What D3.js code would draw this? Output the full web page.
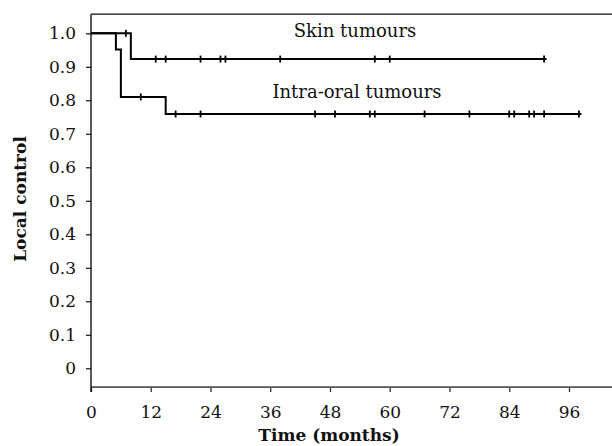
<!DOCTYPE html>
<html>
<head>
<meta charset="utf-8">
<script src="https://cdn.jsdelivr.net/npm/d3@7"></script>
<style>
  html, body { margin: 0; padding: 0; background: #fff; }
  svg { display: block; }
  text { font-family: "DejaVu Serif", serif; fill: #111; }
</style>
</head>
<body>
<svg id="chart" width="612" height="446"></svg>
<script>
// ---- data ----
const xTicks = [0, 12, 24, 36, 48, 60, 72, 84, 96];
const yTicks = [0, 0.1, 0.2, 0.3, 0.4, 0.5, 0.6, 0.7, 0.8, 0.9, 1.0];
const yTickLabels = ["0", "0.1", "0.2", "0.3", "0.4", "0.5", "0.6", "0.7", "0.8", "0.9", "1.0"];

const skinTimes = [0, 8, 91.5];
const skinSurv  = [1.0, 0.923, 0.923];
const skinCensor = [7, 13, 15, 22, 26, 27, 38, 57, 60, 91];

const oralTimes = [0, 5, 6, 15, 98.5];
const oralSurv  = [1.0, 0.952, 0.810, 0.759, 0.759];
const oralCensor = [10, 17, 22, 45, 49, 56, 57, 67, 76, 84, 85, 88, 89, 91, 98];

const seriesLabels = ["Skin tumours", "Intra-oral tumours"];

// ---- layout ----
const svg = d3.select("#chart");
const x = d3.scaleLinear().domain([0, 108]).range([91, 91 + 108 * 4.979]);
const y = d3.scaleLinear().domain([0, 1]).range([368.3, 33.3]);
const yBottom = -0.056, yTop = 1.057;

// frame top line
svg.append("line")
  .attr("x1", x(0)).attr("x2", 612)
  .attr("y1", y(yTop)).attr("y2", y(yTop))
  .attr("stroke", "#111").attr("stroke-width", 1.2);

// x axis
const xAxis = d3.axisBottom(x).tickValues(xTicks).tickSize(5).tickPadding(14).tickFormat(d3.format("d"));
const gx = svg.append("g").attr("transform", `translate(0,${y(yBottom)})`).call(xAxis);
gx.select(".domain").remove();
gx.append("line").attr("x1", x(0)).attr("x2", 612).attr("y1", 0).attr("y2", 0)
  .attr("stroke", "#555").attr("stroke-width", 1.8);
gx.selectAll(".tick line").attr("stroke", "#333").attr("stroke-width", 1.3);
gx.selectAll(".tick text").attr("font-family", "DejaVu Serif").attr("font-size", 17).attr("fill", "#111");

// y axis
const yAxis = d3.axisLeft(y).tickValues(yTicks).tickSize(5).tickPadding(10)
  .tickFormat((d, i) => yTickLabels[i]);
const gy = svg.append("g").attr("transform", `translate(${x(0)},0)`).call(yAxis);
gy.select(".domain").remove();
gy.append("line").attr("x1", 0).attr("x2", 0).attr("y1", y(yTop)).attr("y2", y(yBottom) + 5)
  .attr("stroke", "#111").attr("stroke-width", 1.4);
gy.selectAll(".tick line").attr("stroke", "#111").attr("stroke-width", 1.2);
gy.selectAll(".tick text").attr("font-family", "DejaVu Serif").attr("font-size", 17).attr("fill", "#111");

// curves
const line = d3.line().x(d => x(d[0])).y(d => y(d[1])).curve(d3.curveStepAfter);
function stepVal(times, surv, t) {
  let v = surv[0];
  for (let i = 0; i < times.length; i++) if (times[i] <= t) v = surv[i];
  return v;
}
function drawSeries(times, surv, censor) {
  svg.append("path")
    .datum(times.map((t, i) => [t, surv[i]]))
    .attr("d", line)
    .attr("fill", "none").attr("stroke", "#000").attr("stroke-width", 2);
  svg.append("g").selectAll("line").data(censor).join("line")
    .attr("x1", d => x(d)).attr("x2", d => x(d))
    .attr("y1", d => y(stepVal(times, surv, d)) - 3.5)
    .attr("y2", d => y(stepVal(times, surv, d)) + 3.5)
    .attr("stroke", "#000").attr("stroke-width", 1.8);
}
drawSeries(oralTimes, oralSurv, oralCensor);
drawSeries(skinTimes, skinSurv, skinCensor);

// series labels
svg.append("text").attr("x", 355).attr("y", 37).attr("text-anchor", "middle")
  .attr("font-size", 18).text(seriesLabels[0]);
svg.append("text").attr("x", 357).attr("y", 98).attr("text-anchor", "middle")
  .attr("font-size", 18).text(seriesLabels[1]);

// axis titles
svg.append("text").attr("x", 329).attr("y", 441).attr("text-anchor", "middle")
  .attr("font-size", 17).attr("font-weight", "bold").text("Time (months)");
svg.append("text").attr("transform", "translate(26,199) rotate(-90)")
  .attr("text-anchor", "middle").attr("font-size", 17).attr("font-weight", "bold").text("Local control");
</script>
</body>
</html>
